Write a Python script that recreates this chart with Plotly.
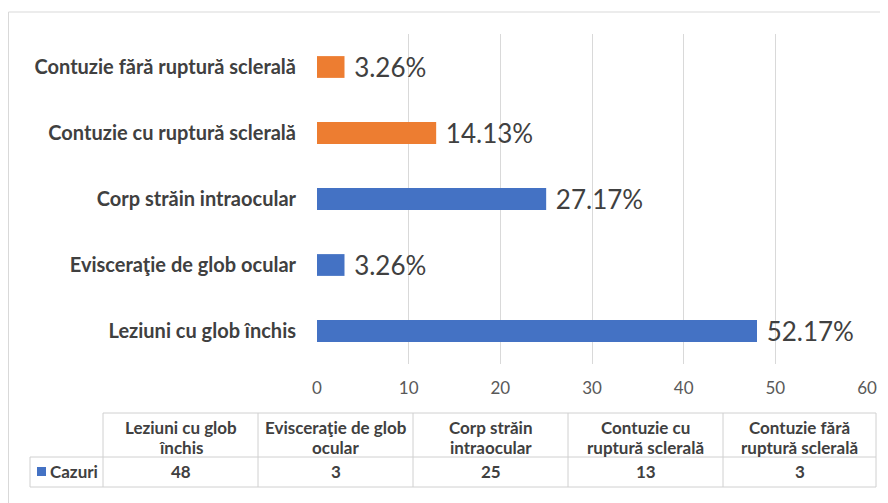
import plotly.graph_objects as go

categories = ["Leziuni cu glob închis", "Evisceraţie de glob ocular", "Corp străin intraocular",
              "Contuzie cu ruptură sclerală", "Contuzie fără ruptură sclerală"]
header_lines = [["Leziuni cu glob", "închis"], ["Evisceraţie de glob", "ocular"], ["Corp străin", "intraocular"],
                ["Contuzie cu", "ruptură sclerală"], ["Contuzie fără", "ruptură sclerală"]]
values = [48, 3, 25, 13, 3]
series_name = "Cazuri"
bar_colors = ["#4472C4", "#4472C4", "#4472C4", "#ED7D31", "#ED7D31"]

total = sum(values)
pct_text = [f"{v / total * 100:.2f}%" for v in values]

OFF = 8  # page body margin offset
W, H = 888 - OFF, 503 - OFF
L, R, T, B = 317 - OFF, 867 - OFF, 34 - OFF, 364 - OFF

def fx(px):
    return (px - OFF - L) / (R - L)

def fy(py):
    return (B - (py - OFF)) / (B - T)

FONT = "Lato, Carlito, Calibri, sans-serif"
TXT = "#404040"
LINE = "#D9D9D9"

fig = go.Figure()
fig.add_trace(go.Bar(
    y=categories, x=values, orientation="h",
    marker=dict(color=bar_colors, line=dict(width=0)),
    width=0.33,
    text=pct_text, texttemplate="\u00a0%{text}", textposition="outside",
    constraintext="none",
    textfont=dict(size=26, color=TXT, family=FONT),
    cliponaxis=False, name=series_name, showlegend=False,
))

shapes = []
# outer border (top and left)
shapes.append(dict(type="line", xref="paper", yref="paper", x0=fx(8.5), x1=fx(900), y0=fy(12), y1=fy(12),
                   line=dict(color=LINE, width=1)))
shapes.append(dict(type="line", xref="paper", yref="paper", x0=fx(8.5), x1=fx(8.5), y0=fy(12), y1=fy(520),
                   line=dict(color=LINE, width=1)))

# table geometry
col_edges = [103, 258, 413, 568, 723, 876]
row_top, row_mid, row_bot = 413, 457, 487
label_left = 30
tl = dict(color="#D0D0D0", width=1)
shapes.append(dict(type="line", xref="paper", yref="paper", x0=fx(col_edges[0]), x1=fx(col_edges[-1]),
                   y0=fy(row_top), y1=fy(row_top), line=tl))
for yy in (row_mid, row_bot):
    shapes.append(dict(type="line", xref="paper", yref="paper", x0=fx(label_left), x1=fx(col_edges[-1]),
                       y0=fy(yy), y1=fy(yy), line=tl))
shapes.append(dict(type="line", xref="paper", yref="paper", x0=fx(label_left), x1=fx(label_left),
                   y0=fy(row_mid), y1=fy(row_bot), line=tl))
for xe in col_edges:
    shapes.append(dict(type="line", xref="paper", yref="paper", x0=fx(xe), x1=fx(xe),
                       y0=fy(row_top), y1=fy(row_bot), line=tl))
# legend key square
shapes.append(dict(type="rect", xref="paper", yref="paper", x0=fx(37), x1=fx(46), y0=fy(467), y1=fy(476),
                   fillcolor="#4472C4", line=dict(width=0)))

annotations = []
for i, lines in enumerate(header_lines):
    cx = (col_edges[i] + col_edges[i + 1]) / 2
    for j, ln in enumerate(lines):
        annotations.append(dict(xref="paper", yref="paper", x=fx(cx), y=fy(427 + 20 * j), text=f"<b>{ln}</b>",
                                showarrow=False, xanchor="center", yanchor="middle",
                                font=dict(size=17, color=TXT, family=FONT)))
    annotations.append(dict(xref="paper", yref="paper", x=fx(cx), y=fy(472), text=f"<b>{values[i]}</b>",
                            showarrow=False, xanchor="center", yanchor="middle",
                            font=dict(size=17, color=TXT, family=FONT)))
annotations.append(dict(xref="paper", yref="paper", x=fx(48), y=fy(472), text=f"<b>{series_name}</b>",
                        showarrow=False, xanchor="left", yanchor="middle",
                        font=dict(size=17, color=TXT, family=FONT)))

fig.update_layout(
    width=W, height=H,
    margin=dict(l=L, r=W - R, t=T, b=H - B, pad=0),
    paper_bgcolor="white", plot_bgcolor="white",
    bargap=0.67,
    xaxis=dict(range=[0, 60], dtick=10, showgrid=True, gridcolor="#D9D9D9", gridwidth=1,
               zeroline=False, showline=False, ticks="",
               tickfont=dict(size=17, color="#595959", family=FONT), ticklabelstandoff=12),
    yaxis=dict(showgrid=False, zeroline=False, showline=False, ticks="", ticklabelstandoff=20,
               tickfont=dict(size=20, color=TXT, family=FONT, weight="bold")),
    shapes=shapes, annotations=annotations,
    showlegend=False,
)

fig.write_html("out.html")
